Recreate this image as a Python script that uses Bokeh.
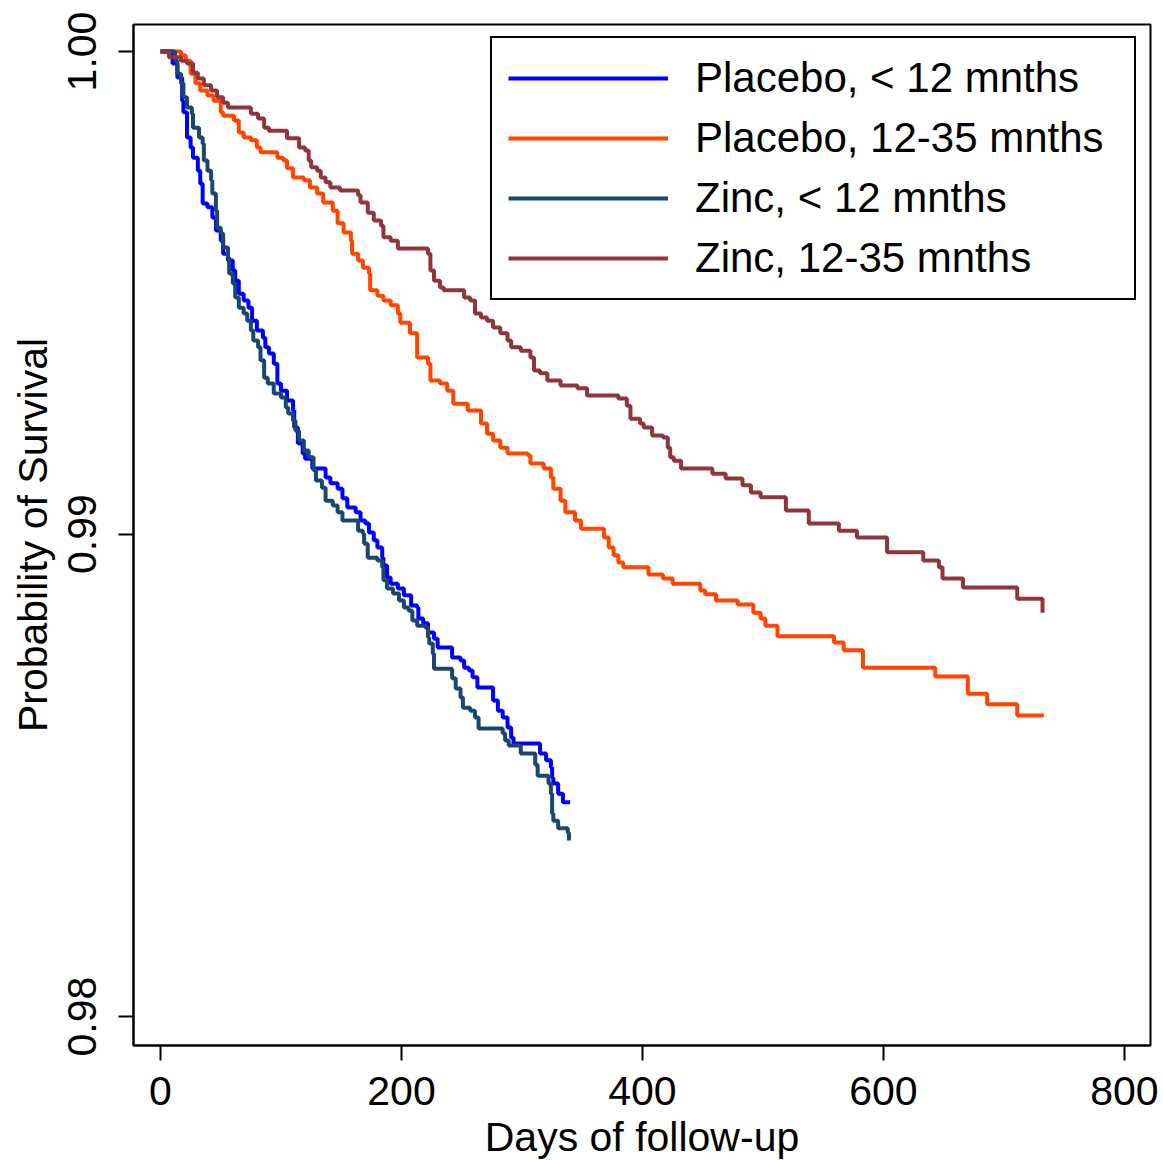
from bokeh.plotting import figure
from bokeh.models import FixedTicker, NumeralTickFormatter, Range1d, Legend
from bokeh.embed import file_html
from bokeh.resources import INLINE

# ---- data (days, survival probability) ----
placebo_lt12_days = [0, 10, 14, 18, 19, 22, 25, 27, 31, 33, 35, 39, 43, 46, 50, 52, 56, 60, 62, 65,
                     69, 73, 76, 80, 85, 87, 90, 94, 97, 100, 105, 110, 111, 114, 118, 120, 126, 137,
                     141, 147, 151, 155, 162, 166, 170, 173, 177, 180, 184, 185, 188, 191, 197, 202,
                     208, 213, 214, 218, 222, 227, 230, 242, 249, 252, 256, 259, 263, 276, 280, 284,
                     288, 291, 293, 315, 320, 324, 325, 326, 330, 334, 340]
placebo_lt12_surv = [1.0, 0.99975, 0.99946, 0.99898, 0.99874, 0.99822, 0.99801, 0.99780, 0.99753,
                     0.99726, 0.99685, 0.99677, 0.99656, 0.99629, 0.99608, 0.99581, 0.99567, 0.99546,
                     0.99525, 0.99498, 0.99484, 0.99469, 0.99442, 0.99422, 0.99407, 0.99387, 0.99374,
                     0.99353, 0.99312, 0.99297, 0.99277, 0.99256, 0.99221, 0.99188, 0.99167, 0.99156,
                     0.99136, 0.99117, 0.99105, 0.99094, 0.99074, 0.99055, 0.99045, 0.99028, 0.99022,
                     0.99003, 0.98987, 0.98972, 0.98951, 0.98935, 0.98910, 0.98897, 0.98887, 0.98873,
                     0.98852, 0.98848, 0.98825, 0.98815, 0.98796, 0.98783, 0.98765, 0.98744, 0.98738,
                     0.98723, 0.98717, 0.98703, 0.98682, 0.98655, 0.98634, 0.98620, 0.98599, 0.98578,
                     0.98566, 0.98545, 0.98531, 0.98516, 0.98495, 0.98483, 0.98462, 0.98444, 0.98444]

placebo_1235_days = [0, 17, 21, 25, 29, 33, 39, 44, 50, 52, 61, 65, 69, 75, 80, 83, 97, 102, 105, 110,
                     119, 124, 130, 135, 143, 147, 152, 158, 159, 164, 168, 173, 174, 180, 185, 191,
                     197, 199, 207, 213, 222, 224, 232, 238, 243, 255, 266, 271, 276, 282, 288, 305,
                     307, 318, 324, 326, 332, 336, 344, 349, 368, 372, 376, 380, 384, 405, 417, 425,
                     448, 452, 461, 479, 492, 498, 502, 512, 559, 567, 583, 643, 670, 686, 711, 733]
placebo_1235_surv = [1.0, 0.99992, 0.99981, 0.99954, 0.99934, 0.99919, 0.99909, 0.99898, 0.99874,
                     0.99867, 0.99857, 0.99832, 0.99822, 0.99816, 0.99801, 0.99791, 0.99780, 0.99774,
                     0.99758, 0.99739, 0.99733, 0.99718, 0.99706, 0.99687, 0.99670, 0.99644, 0.99625,
                     0.99608, 0.99581, 0.99567, 0.99552, 0.99540, 0.99505, 0.99494, 0.99484, 0.99474,
                     0.99457, 0.99438, 0.99416, 0.99366, 0.99353, 0.99318, 0.99312, 0.99297, 0.99270,
                     0.99256, 0.99229, 0.99208, 0.99194, 0.99179, 0.99167, 0.99163, 0.99146, 0.99136,
                     0.99117, 0.99094, 0.99069, 0.99045, 0.99028, 0.99011, 0.98993, 0.98972, 0.98956,
                     0.98941, 0.98931, 0.98916, 0.98908, 0.98897, 0.98883, 0.98875, 0.98862, 0.98854,
                     0.98837, 0.98825, 0.98810, 0.98788, 0.98775, 0.98759, 0.98723, 0.98705, 0.98669,
                     0.98647, 0.98624, 0.98624]

zinc_lt12_days = [0, 12, 14, 17, 19, 22, 26, 27, 32, 35, 36, 39, 42, 43, 46, 47, 50, 52, 56, 57, 60,
                  62, 65, 69, 72, 75, 77, 81, 83, 86, 89, 94, 100, 104, 106, 110, 112, 115, 119, 123,
                  127, 129, 134, 137, 143, 147, 151, 164, 168, 169, 172, 180, 184, 185, 188, 193, 198,
                  202, 206, 209, 213, 220, 222, 223, 226, 227, 242, 245, 249, 251, 257, 261, 264, 284,
                  286, 289, 299, 311, 313, 322, 324, 325, 326, 330, 338, 339]
zinc_lt12_surv = [1.0, 0.99981, 0.99954, 0.99934, 0.99905, 0.99884, 0.99871, 0.99842, 0.99822,
                  0.99809, 0.99774, 0.99753, 0.99733, 0.99706, 0.99670, 0.99635, 0.99623, 0.99594,
                  0.99573, 0.99540, 0.99519, 0.99490, 0.99469, 0.99457, 0.99442, 0.99422, 0.99401,
                  0.99387, 0.99360, 0.99324, 0.99312, 0.99291, 0.99283, 0.99262, 0.99250, 0.99235,
                  0.99214, 0.99194, 0.99173, 0.99159, 0.99132, 0.99111, 0.99096, 0.99069, 0.99059,
                  0.99045, 0.99028, 0.99007, 0.99001, 0.98980, 0.98951, 0.98945, 0.98931, 0.98904,
                  0.98887, 0.98877, 0.98862, 0.98848, 0.98841, 0.98821, 0.98810, 0.98806, 0.98786,
                  0.98773, 0.98752, 0.98721, 0.98701, 0.98680, 0.98661, 0.98640, 0.98634, 0.98620,
                  0.98597, 0.98587, 0.98572, 0.98562, 0.98545, 0.98522, 0.98499, 0.98483, 0.98462,
                  0.98421, 0.98406, 0.98390, 0.98381, 0.98365]

zinc_1235_days = [0, 7, 17, 22, 27, 31, 36, 42, 47, 52, 56, 75, 81, 86, 90, 105, 115, 120, 123, 125,
                  130, 133, 137, 141, 149, 164, 166, 172, 177, 183, 185, 191, 197, 222, 224, 227, 232,
                  235, 252, 257, 261, 266, 271, 276, 282, 288, 291, 299, 307, 310, 315, 321, 332, 346,
                  354, 380, 387, 390, 398, 401, 408, 417, 421, 423, 426, 432, 458, 469, 483, 490, 498,
                  519, 538, 563, 578, 603, 633, 646, 649, 666, 711, 732]
zinc_1235_surv = [1.0, 0.99988, 0.99981, 0.99975, 0.99956, 0.99944, 0.99930, 0.99919, 0.99905,
                  0.99894, 0.99884, 0.99871, 0.99861, 0.99842, 0.99836, 0.99820, 0.99801, 0.99795,
                  0.99774, 0.99760, 0.99753, 0.99739, 0.99729, 0.99718, 0.99712, 0.99702, 0.99687,
                  0.99666, 0.99650, 0.99639, 0.99615, 0.99608, 0.99592, 0.99581, 0.99546, 0.99525,
                  0.99511, 0.99505, 0.99490, 0.99484, 0.99457, 0.99449, 0.99442, 0.99428, 0.99416,
                  0.99401, 0.99387, 0.99380, 0.99366, 0.99339, 0.99333, 0.99318, 0.99308, 0.99302,
                  0.99287, 0.99281, 0.99266, 0.99239, 0.99229, 0.99221, 0.99204, 0.99200, 0.99179,
                  0.99159, 0.99152, 0.99136, 0.99125, 0.99115, 0.99101, 0.99086, 0.99076, 0.99049,
                  0.99022, 0.99007, 0.98993, 0.98962, 0.98945, 0.98931, 0.98908, 0.98889, 0.98866,
                  0.98837]

series_labels = ["Placebo, < 12 mnths", "Placebo, 12-35 mnths", "Zinc, < 12 mnths", "Zinc, 12-35 mnths"]
series_colors = ["#0000ff", "#ff4500", "#1a476f", "#90353b"]

x_ticks = [0, 200, 400, 600, 800]
y_ticks = [0.98, 0.99, 1.00]

FONT = "Liberation Sans"
FS = "41px"

p = figure(frame_width=1017, frame_height=1021, output_backend="svg", toolbar_location=None,
           x_range=Range1d(-22.4, 821.6), y_range=Range1d(0.9794, 1.00056),
           min_border_left=133, min_border_top=24, min_border_right=10, min_border_bottom=110,
           background_fill_color="white", border_fill_color="white")

p.outline_line_color = "black"
p.outline_line_width = 2
p.xgrid.visible = False
p.ygrid.visible = False

series = [
    (placebo_lt12_days, placebo_lt12_surv),
    (placebo_1235_days, placebo_1235_surv),
    (zinc_lt12_days, zinc_lt12_surv),
    (zinc_1235_days, zinc_1235_surv),
]
items = []
for (xs, ys), lab, col in zip(series, series_labels, series_colors):
    r = p.step(xs, ys, mode="after", line_color=col, line_width=4)
    items.append((lab, [r]))

legend = Legend(items=items, location=(357, 745))
legend.label_text_font = FONT
legend.label_text_font_size = "42px"
legend.label_text_color = "black"
legend.glyph_width = 160
legend.glyph_height = 48
legend.label_height = 48
legend.label_width = 423
legend.label_standoff = 27
legend.spacing = 12
legend.padding = 16
legend.border_line_color = "black"
legend.border_line_alpha = 1.0
legend.border_line_width = 2
legend.background_fill_color = "white"
legend.background_fill_alpha = 1.0
p.add_layout(legend)

for ax in (p.xaxis, p.yaxis):
    ax.axis_line_color = "black"
    ax.axis_line_width = 2
    ax.major_tick_line_color = "black"
    ax.major_tick_line_width = 2
    ax.major_tick_out = 15
    ax.major_tick_in = 0
    ax.minor_tick_line_color = None
    ax.major_label_text_font = FONT
    ax.major_label_text_font_size = FS
    ax.major_label_text_color = "black"
    ax.axis_label_text_font = FONT
    ax.axis_label_text_font_size = FS
    ax.axis_label_text_font_style = "normal"
    ax.axis_label_text_color = "black"

p.xaxis.ticker = FixedTicker(ticks=x_ticks)
p.yaxis.ticker = FixedTicker(ticks=y_ticks)
p.yaxis.formatter = NumeralTickFormatter(format="0.00")
p.yaxis.major_label_orientation = "vertical"
p.xaxis.axis_label = "Days of follow-up"
p.yaxis.axis_label = "Probability of Survival"
p.xaxis.major_label_standoff = 16
p.xaxis.axis_label_standoff = 6
p.yaxis.major_label_standoff = 22
p.yaxis.axis_label_standoff = 10

open("out.html", "w").write(file_html(p, INLINE))
